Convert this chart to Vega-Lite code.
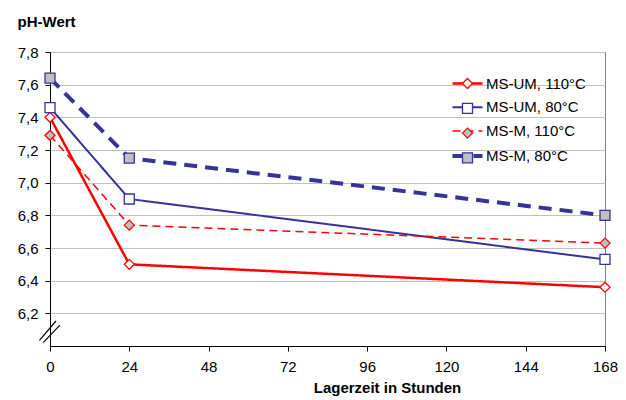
{
  "$schema": "https://vega.github.io/schema/vega-lite/v6.json",
  "width": 555,
  "height": 294,
  "autosize": {"type": "none"},
  "padding": {"left": 50, "top": 52, "right": 21, "bottom": 54},
  "background": "white",
  "config": {
    "font": "Liberation Sans",
    "view": {"stroke": "#808080", "strokeWidth": 1},
    "axis": {"labelFont": "Liberation Sans", "titleFont": "Liberation Sans", "labelColor": "black", "titleColor": "black", "domainColor": "black", "tickColor": "black", "labelFontSize": 15, "titleFontSize": 15, "titleFontWeight": "bold", "labelOverlap": false},
    "legend": {"labelFont": "Liberation Sans", "labelFontSize": 15, "labelColor": "black"}
  },
  "datasets": {
    "ph": [
      {"hours": 0, "ph": 7.40, "series": "MS-UM, 110°C", "key": "UM110"},
      {"hours": 24, "ph": 6.50, "series": "MS-UM, 110°C", "key": "UM110"},
      {"hours": 168, "ph": 6.36, "series": "MS-UM, 110°C", "key": "UM110"},
      {"hours": 0, "ph": 7.46, "series": "MS-UM, 80°C", "key": "UM80"},
      {"hours": 24, "ph": 6.90, "series": "MS-UM, 80°C", "key": "UM80"},
      {"hours": 168, "ph": 6.53, "series": "MS-UM, 80°C", "key": "UM80"},
      {"hours": 0, "ph": 7.29, "series": "MS-M, 110°C", "key": "M110"},
      {"hours": 24, "ph": 6.74, "series": "MS-M, 110°C", "key": "M110"},
      {"hours": 168, "ph": 6.63, "series": "MS-M, 110°C", "key": "M110"},
      {"hours": 0, "ph": 7.64, "series": "MS-M, 80°C", "key": "M80"},
      {"hours": 24, "ph": 7.15, "series": "MS-M, 80°C", "key": "M80"},
      {"hours": 168, "ph": 6.80, "series": "MS-M, 80°C", "key": "M80"}
    ],
    "brk": [
      {"x1": -3.2, "x2": 1.8, "y1": 6.034, "y2": 6.153},
      {"x1": -2.0, "x2": 3.0, "y1": 6.022, "y2": 6.128}
    ]
  },
  "layer": [
    {
      "data": {"name": "ph"},
      "mark": {"type": "line", "clip": false},
      "encoding": {
        "x": {"field": "hours", "type": "quantitative",
          "scale": {"domain": [0, 168], "nice": false, "zero": false},
          "axis": {"values": [0, 24, 48, 72, 96, 120, 144, 168], "tickCount": 20, "grid": false, "tickSize": 5, "labelPadding": 8, "title": "Lagerzeit in Stunden", "titlePadding": 6, "titleX": 337, "labelFlush": false}},
        "y": {"field": "ph", "type": "quantitative",
          "scale": {"domain": [6.0, 7.8], "nice": false, "zero": false},
          "axis": {"values": [6.2, 6.4, 6.6, 6.8, 7.0, 7.2, 7.4, 7.6, 7.8], "tickCount": 20, "grid": true, "gridColor": "#C0C0C0", "gridWidth": 1, "tickSize": 5, "labelPadding": 7, "labelFlush": false,
            "labelExpr": "replace(format(datum.value, '.1f'), '.', ',')",
            "title": "pH-Wert", "titleAngle": 0, "titleAlign": "left", "titleBaseline": "alphabetic", "titleX": -33, "titleY": -26}},
        "color": {"field": "series", "type": "nominal",
          "scale": {"domain": ["MS-UM, 110°C", "MS-UM, 80°C", "MS-M, 110°C", "MS-M, 80°C"], "range": ["#FF0000", "#333399", "#FF0000", "#333399"]},
          "legend": {"title": null, "orient": "none", "legendX": 410, "legendY": 24, "padding": 0, "symbolType": "M-3,0H3", "symbolSize": 100, "labelOffset": 11, "rowPadding": 7.8}},
        "strokeDash": {"field": "series", "type": "nominal",
          "scale": {"domain": ["MS-UM, 110°C", "MS-UM, 80°C", "MS-M, 110°C", "MS-M, 80°C"], "range": [[1, 0], [1, 0], [8, 5], [13, 8]]},
          "legend": {"title": null, "orient": "none", "legendX": 410, "legendY": 24, "padding": 0, "symbolType": "M-3,0H3", "symbolSize": 100, "labelOffset": 11, "rowPadding": 7.8}},
        "strokeWidth": {"field": "series", "type": "nominal",
          "scale": {"type": "ordinal", "domain": ["MS-UM, 110°C", "MS-UM, 80°C", "MS-M, 110°C", "MS-M, 80°C"], "range": [2.5, 2, 1.5, 4]},
          "legend": {"title": null, "orient": "none", "legendX": 410, "legendY": 24, "padding": 0, "symbolType": "M-3,0H3", "symbolSize": 100, "labelOffset": 11, "rowPadding": 7.8}}
      }
    },
    {
      "data": {"name": "ph"},
      "mark": {"type": "point", "filled": false, "opacity": 1, "strokeWidth": 1.3, "clip": false},
      "encoding": {
        "x": {"field": "hours", "type": "quantitative"},
        "y": {"field": "ph", "type": "quantitative"},
        "shape": {"field": "key", "type": "nominal",
          "scale": {"domain": ["UM110", "UM80", "M110", "M80"], "range": ["diamond", "square", "diamond", "square"]},
          "legend": {"title": null, "orient": "none", "legendX": 410, "legendY": 24, "padding": 0, "symbolSize": 100, "labelOffset": 11, "rowPadding": 7.8, "labelExpr": "''", "symbolStrokeWidth": 1.3}},
        "fill": {"field": "key", "type": "nominal",
          "scale": {"domain": ["UM110", "UM80", "M110", "M80"], "range": ["#FFFFFF", "#FFFFFF", "#C0C0C0", "#C0C0C0"]},
          "legend": {"title": null, "orient": "none", "legendX": 410, "legendY": 24, "padding": 0, "symbolSize": 100, "labelOffset": 11, "rowPadding": 7.8, "labelExpr": "''", "symbolStrokeWidth": 1.3}},
        "stroke": {"field": "key", "type": "nominal",
          "scale": {"domain": ["UM110", "UM80", "M110", "M80"], "range": ["#FF0000", "#333399", "#FF0000", "#333399"]},
          "legend": {"title": null, "orient": "none", "legendX": 410, "legendY": 24, "padding": 0, "symbolSize": 100, "labelOffset": 11, "rowPadding": 7.8, "labelExpr": "''", "symbolStrokeWidth": 1.3}},
        "size": {"value": 100}
      }
    },
    {
      "data": {"name": "brk"},
      "mark": {"type": "rule", "color": "black", "strokeWidth": 1.2, "clip": false},
      "encoding": {
        "x": {"field": "x1", "type": "quantitative"},
        "x2": {"field": "x2"},
        "y": {"field": "y1", "type": "quantitative"},
        "y2": {"field": "y2"}
      }
    }
  ]
}
